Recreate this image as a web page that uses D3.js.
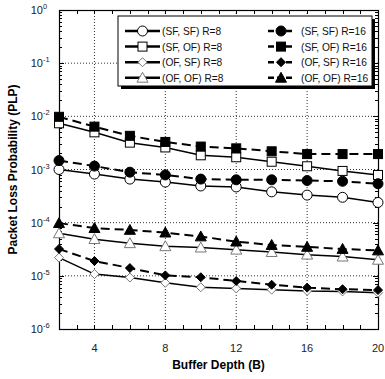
<!DOCTYPE html>
<html>
<head>
<meta charset="utf-8">
<script src="https://cdn.jsdelivr.net/npm/d3@7"></script>
<style>
  body { margin: 0; background: #fff; }
  svg { font-family: "Liberation Sans", Arial, sans-serif; }
</style>
</head>
<body>
<div id="chart"></div>
<script>
// Buffer depth values on the x axis
const bufferDepth = [2, 4, 6, 8, 10, 12, 14, 16, 18, 20];
const xTicks = [4, 8, 12, 16, 20];
const yTickExps = [0, -1, -2, -3, -4, -5, -6];

// PLP values
const sfsfR8  = [1.0e-3, 8.2e-4, 6.6e-4, 5.8e-4, 4.9e-4, 4.7e-4, 3.8e-4, 3.3e-4, 3.0e-4, 2.4e-4];
const sfofR8  = [7.4e-3, 5.0e-3, 3.2e-3, 2.6e-3, 1.85e-3, 1.7e-3, 1.4e-3, 1.15e-3, 9.4e-4, 7.9e-4];
const ofsfR8  = [2.2e-5, 1.08e-5, 9.3e-6, 7.4e-6, 6.1e-6, 5.8e-6, 5.5e-6, 5.2e-6, 5.1e-6, 4.8e-6];
const ofofR8  = [6.3e-5, 4.9e-5, 4.1e-5, 3.6e-5, 3.4e-5, 3.1e-5, 2.8e-5, 2.5e-5, 2.3e-5, 2.0e-5];
const sfsfR16 = [1.47e-3, 1.16e-3, 8.9e-4, 7.9e-4, 6.6e-4, 6.4e-4, 6.4e-4, 6.2e-4, 6.0e-4, 5.4e-4];
const sfofR16 = [9.8e-3, 6.4e-3, 4.3e-3, 3.3e-3, 2.7e-3, 2.5e-3, 2.2e-3, 1.95e-3, 1.95e-3, 1.95e-3];
const ofsfR16 = [3.2e-5, 1.9e-5, 1.4e-5, 1.02e-5, 9.4e-6, 8.0e-6, 6.8e-6, 6.0e-6, 5.6e-6, 5.4e-6];
const ofofR16 = [9.8e-5, 7.9e-5, 7.3e-5, 6.5e-5, 5.5e-5, 4.4e-5, 3.8e-5, 3.5e-5, 3.2e-5, 3.0e-5];

const series = [
  { name: "(SF, SF) R=8",  values: sfsfR8,  marker: "circle",   filled: false, dashed: false },
  { name: "(SF, OF) R=8",  values: sfofR8,  marker: "square",   filled: false, dashed: false },
  { name: "(OF, SF) R=8",  values: ofsfR8,  marker: "diamond",  filled: false, dashed: false },
  { name: "(OF, OF) R=8",  values: ofofR8,  marker: "triangle", filled: false, dashed: false },
  { name: "(SF, SF) R=16", values: sfsfR16, marker: "circle",   filled: true,  dashed: true },
  { name: "(SF, OF) R=16", values: sfofR16, marker: "square",   filled: true,  dashed: true },
  { name: "(OF, SF) R=16", values: ofsfR16, marker: "diamond",  filled: true,  dashed: true },
  { name: "(OF, OF) R=16", values: ofofR16, marker: "triangle", filled: true,  dashed: true }
];

const width = 385, height = 379;
const margin = { top: 10, right: 7, bottom: 50, left: 59 };

const x = d3.scaleLinear()
  .domain([2, 20])
  .range([margin.left, width - margin.right]);

const y = d3.scaleLog()
  .domain([1e-6, 1])
  .range([height - margin.bottom, margin.top]);

const svg = d3.select("#chart")
  .append("svg")
  .attr("width", width)
  .attr("height", height);

const x0 = x.range()[0], x1 = x.range()[1];
const y0 = y.range()[0], y1 = y.range()[1];

// dotted grid
svg.append("g")
  .selectAll("line")
  .data(yTickExps.slice(1, -1))
  .join("line")
  .attr("x1", x0).attr("x2", x1)
  .attr("y1", (d) => y(Math.pow(10, d)))
  .attr("y2", (d) => y(Math.pow(10, d)))
  .attr("stroke", "#333")
  .attr("stroke-width", 1)
  .attr("stroke-dasharray", "1,2");

svg.append("g")
  .selectAll("line")
  .data(xTicks.slice(0, -1))
  .join("line")
  .attr("x1", (d) => x(d)).attr("x2", (d) => x(d))
  .attr("y1", y0).attr("y2", y1)
  .attr("stroke", "#333")
  .attr("stroke-width", 1)
  .attr("stroke-dasharray", "1,2");

// inward ticks on all four sides
const minorY = [];
for (let e = -6; e < 0; e++) {
  for (let m = 2; m <= 9; m++) minorY.push(m * Math.pow(10, e));
}
const majorY = yTickExps.map((e) => Math.pow(10, e));
const xMinor = d3.range(2, 21, 1);

const tickG = svg.append("g").attr("stroke", "#000").attr("stroke-width", 1);
[[x0, 1], [x1, -1]].forEach(([px, dir]) => {
  tickG.selectAll(null).data(minorY).join("line")
    .attr("x1", px).attr("x2", px + dir * 3)
    .attr("y1", (d) => Math.round(y(d)) + 0.5).attr("y2", (d) => Math.round(y(d)) + 0.5);
  tickG.selectAll(null).data(majorY).join("line")
    .attr("x1", px).attr("x2", px + dir * 5)
    .attr("y1", (d) => Math.round(y(d)) + 0.5).attr("y2", (d) => Math.round(y(d)) + 0.5);
});
[[y0, -1], [y1, 1]].forEach(([py, dir]) => {
  tickG.selectAll(null).data(xMinor).join("line")
    .attr("x1", (d) => Math.round(x(d)) + 0.5).attr("x2", (d) => Math.round(x(d)) + 0.5)
    .attr("y1", py).attr("y2", py + dir * 4);
});

// frame
svg.append("rect")
  .attr("x", x0 + 0.5).attr("y", y1 + 0.5)
  .attr("width", x1 - x0).attr("height", y0 - y1)
  .attr("fill", "none")
  .attr("stroke", "#000")
  .attr("stroke-width", 1.2);

// tick labels
svg.append("g")
  .selectAll("text")
  .data(xTicks)
  .join("text")
  .attr("x", (d) => x(d))
  .attr("y", y0 + 23)
  .attr("text-anchor", "middle")
  .attr("font-size", 11)
  .attr("fill", "#222")
  .text((d) => d);

svg.append("g")
  .selectAll("text")
  .data(yTickExps)
  .join("text")
  .attr("x", x0 - 16)
  .attr("y", (d) => y(Math.pow(10, d)) + 4)
  .attr("text-anchor", "end")
  .attr("font-size", 11)
  .attr("fill", "#222")
  .text("10");
svg.append("g")
  .selectAll("text")
  .data(yTickExps)
  .join("text")
  .attr("x", x0 - 16)
  .attr("y", (d) => y(Math.pow(10, d)) - 1)
  .attr("font-size", 7.5)
  .attr("fill", "#222")
  .text((d) => d);

// axis titles
svg.append("text")
  .attr("x", (x0 + x1) / 2)
  .attr("y", height - 10)
  .attr("text-anchor", "middle")
  .attr("font-size", 12)
  .attr("font-weight", "bold")
  .text("Buffer Depth (B)");

svg.append("text")
  .attr("transform", `translate(17,${(y0 + y1) / 2}) rotate(-90)`)
  .attr("text-anchor", "middle")
  .attr("font-size", 12)
  .attr("font-weight", "bold")
  .text("Packet Loss Probability (PLP)");

// markers
function drawMarker(g, s, cx, cy) {
  const stroke = s.filled ? "#000" : (s.marker === "diamond" || s.marker === "triangle" ? "#777" : "#000");
  const fill = s.filled ? "#000" : "#fff";
  if (s.marker === "circle") {
    g.append("circle").attr("cx", cx).attr("cy", cy).attr("r", 5)
      .attr("fill", fill).attr("stroke", stroke).attr("stroke-width", 1);
  } else if (s.marker === "square") {
    const h = 4.5;
    g.append("rect").attr("x", cx - h).attr("y", cy - h).attr("width", 2 * h).attr("height", 2 * h)
      .attr("fill", fill).attr("stroke", stroke).attr("stroke-width", 1);
  } else if (s.marker === "diamond") {
    const h = 4.5;
    g.append("path").attr("d", `M${cx},${cy - h}L${cx + h},${cy}L${cx},${cy + h}L${cx - h},${cy}Z`)
      .attr("fill", fill).attr("stroke", stroke).attr("stroke-width", 1);
  } else {
    const h = 5.5;
    g.append("path").attr("d", `M${cx},${cy - h}L${cx + h},${cy + h * 0.8}L${cx - h},${cy + h * 0.8}Z`)
      .attr("fill", fill).attr("stroke", stroke).attr("stroke-width", 1);
  }
}

const line = d3.line()
  .x((d, i) => x(bufferDepth[i]))
  .y((d) => y(d));

series.forEach((s) => {
  svg.append("path")
    .datum(s.values)
    .attr("fill", "none")
    .attr("stroke", "#000")
    .attr("stroke-width", s.dashed ? 2 : 1.5)
    .attr("stroke-dasharray", s.dashed ? "9,5" : null)
    .attr("d", line);
});
series.forEach((s) => {
  const g = svg.append("g");
  s.values.forEach((v, i) => drawMarker(g, s, x(bufferDepth[i]), y(v)));
});

// legend
const lg = svg.append("g");
const lx = 118, ly = 16, lw = 254, lh = 70;
lg.append("rect").attr("x", lx + 3).attr("y", ly + 3).attr("width", lw).attr("height", lh).attr("fill", "#000");
lg.append("rect").attr("x", lx).attr("y", ly).attr("width", lw).attr("height", lh)
  .attr("fill", "#fff").attr("stroke", "#000").attr("stroke-width", 1);

series.forEach((s, i) => {
  const col = Math.floor(i / 4), row = i % 4;
  const cy = 31 + row * 15.6;
  const sx = col === 0 ? 125 : 268;
  const ex = col === 0 ? 160 : 294;
  lg.append("line").attr("x1", sx).attr("x2", ex).attr("y1", cy).attr("y2", cy)
    .attr("stroke", "#000").attr("stroke-width", 2.5)
    .attr("stroke-dasharray", s.dashed ? "6,3" : null);
  drawMarker(lg, s, (sx + ex) / 2, cy);
  lg.append("text").attr("x", col === 0 ? 162 : 301).attr("y", cy + 4)
    .attr("font-size", 10.2).attr("fill", "#111").text(s.name);
});
</script>
</body>
</html>
